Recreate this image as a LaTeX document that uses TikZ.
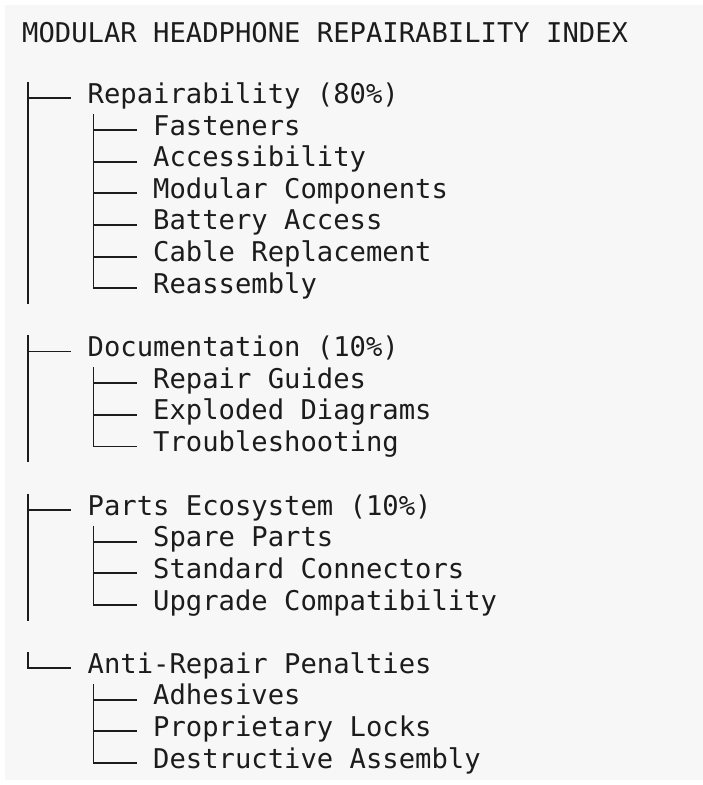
\documentclass[tikz,border=0pt]{standalone}
\usepackage{fontspec}
\setmonofont{DejaVu Sans Mono}
\usepackage{tikz}
\usetikzlibrary{positioning}

\definecolor{ink}{HTML}{1C1C1C}
\definecolor{panel}{HTML}{F7F7F7}

\begin{document}
\begin{tikzpicture}[
  x=1pt, y=-1pt,
  every node/.style={anchor=west, inner sep=0pt, minimum height=31.65pt,
    text height=18pt, text depth=8pt, text=ink,
    font=\ttfamily\fontsize{27.2}{31.65}\selectfont},
  branch/.style={draw=ink, line width=1.8pt}
]
\useasboundingbox (0,0) rectangle (703,785);
\fill[panel] (5,5) rectangle (703,780);

\node (title) at (22,37.3) {MODULAR HEADPHONE REPAIRABILITY INDEX};

% first level
\node (rep)   at (87.5,98.3)  {Repairability (80\%)};
\node (doc)   at (87.5,351.5) {Documentation (10\%)};
\node (parts) at (87.5,510)   {Parts Ecosystem (10\%)};
\node (anti)  at (87.5,668)   {Anti-Repair Penalties};

% second level
\node (fast)    at (153,130)   {Fasteners};
\node (acc)     at (153,161.6) {Accessibility};
\node (mod)     at (153,193.3) {Modular Components};
\node (batt)    at (153,224.9) {Battery Access};
\node (cable)   at (153,256.6) {Cable Replacement};
\node (reas)    at (153,288.2) {Reassembly};
\node (guide)   at (153,383.1) {Repair Guides};
\node (expl)    at (153,414.8) {Exploded Diagrams};
\node (trouble) at (153,446.4) {Troubleshooting};
\node (spare)   at (153,541.7) {Spare Parts};
\node (conn)    at (153,573.3) {Standard Connectors};
\node (upgr)    at (153,605)   {Upgrade Compatibility};
\node (adh)     at (153,699.6) {Adhesives};
\node (lock)    at (153,731.3) {Proprietary Locks};
\node (destr)   at (153,763)   {Destructive Assembly};

% trunk
\coordinate (t1) at ([xshift=-59.5pt]rep.north west);
\coordinate (t2) at ([xshift=-59.5pt]doc.north west);
\coordinate (t3) at ([xshift=-59.5pt]parts.north west);
\draw[branch] (t1) -- (t1 |- reas.south);
\draw[branch] (t2) -- (t2 |- trouble.south);
\draw[branch] (t3) -- (t3 |- upgr.south);
\draw[branch] ([xshift=-59.5pt]anti.north west) |- ([xshift=-16.5pt]anti.west);

% sub trees
\draw[branch] ([xshift=-59.5pt]fast.north west) |- ([xshift=-16.5pt]reas.west);
\draw[branch] ([xshift=-59.5pt]guide.north west) |- ([xshift=-16.5pt]trouble.west);
\draw[branch] ([xshift=-59.5pt]spare.north west) |- ([xshift=-16.5pt]upgr.west);
\draw[branch] ([xshift=-59.5pt]adh.north west) |- ([xshift=-16.5pt]destr.west);

\foreach \n in {rep,doc,parts,fast,acc,mod,batt,cable,guide,expl,spare,conn,adh,lock}
  \draw[branch] ([xshift=-59.5pt]\n.west) -- ([xshift=-16.5pt]\n.west);
\end{tikzpicture}
\end{document}
